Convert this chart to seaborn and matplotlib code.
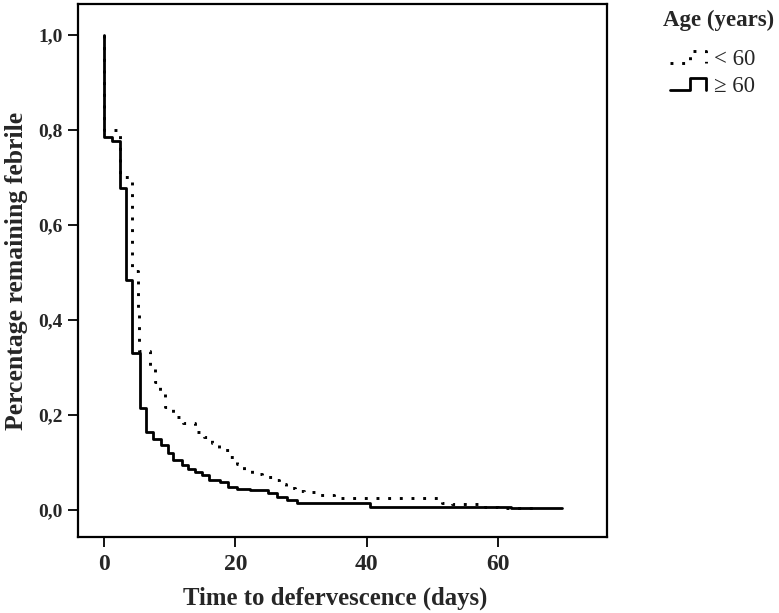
import numpy as np
import pandas as pd
import matplotlib
matplotlib.use('Agg')
import matplotlib.pyplot as plt
from matplotlib.lines import Line2D
from matplotlib.legend_handler import HandlerLine2D
import seaborn as sns

# Kaplan-Meier steps
young_days = [0, 0, 2.4, 4.3, 5.1, 5.3, 7, 7.8, 8.5, 9.3, 10.5, 12, 13.8, 15.2, 16.4, 17.5, 19,
              20.2, 21.3, 22.5, 24, 25.5, 26.6, 27.7, 29, 30.5, 32.2, 35, 51.5, 53, 58, 60, 66]
young_surv = [1.0, 0.80, 0.70, 0.503, 0.415, 0.335, 0.30, 0.27, 0.245, 0.217, 0.195, 0.183,
              0.165, 0.154, 0.141, 0.126, 0.112, 0.097, 0.083, 0.075, 0.07, 0.063, 0.054,
              0.046, 0.04, 0.037, 0.032, 0.025, 0.015, 0.012, 0.007, 0.003, 0.003]

old_days = [0, 0, 1.2, 2.4, 3.3, 4.3, 5.4, 6.3, 7.5, 8.7, 9.7, 10.5, 11.8, 12.8, 13.9, 14.9,
            15.9, 17.7, 18.9, 20.2, 22.2, 25, 26.3, 27.8, 29.3, 40.5, 62, 69.7]
old_surv = [1.0, 0.786, 0.776, 0.678, 0.484, 0.33, 0.214, 0.165, 0.149, 0.137, 0.12, 0.105,
            0.095, 0.086, 0.08, 0.074, 0.063, 0.059, 0.049, 0.044, 0.041, 0.036, 0.028,
            0.021, 0.015, 0.007, 0.003, 0.003]

group_labels = ['< 60', '\u2265 60']
x_ticks = [0, 20, 40, 60]
y_ticks = [0.0, 0.2, 0.4, 0.6, 0.8, 1.0]
y_tick_labels = ['0,0', '0,2', '0,4', '0,6', '0,8', '1,0']

young = pd.DataFrame({'days': young_days, 'surv': young_surv})
old = pd.DataFrame({'days': old_days, 'surv': old_surv})

sns.set_style('white')
plt.rcParams['font.family'] = ['Liberation Serif', 'DejaVu Serif']

fig = plt.figure(figsize=(7.79, 6.13), dpi=100)
ax = fig.add_axes([0.1001, 0.124, 0.679, 0.8695])

dotted = (0, (1, 3))
sns.lineplot(data=young, x='days', y='surv', ax=ax, estimator=None, sort=False,
             drawstyle='steps-post', color='black', linewidth=2.1, linestyle=dotted)
sns.lineplot(data=old, x='days', y='surv', ax=ax, estimator=None, sort=False,
             drawstyle='steps-post', color='black', linewidth=2.0)

ax.set_xlim(-4, 76.6)
ax.set_ylim(-0.057, 1.065)
ax.set_xticks(x_ticks)
ax.set_xticklabels([str(t) for t in x_ticks])
ax.set_yticks(y_ticks)
ax.set_yticklabels(y_tick_labels)
ax.tick_params(axis='both', direction='out', length=7, width=1.3, color='black',
               pad=4, bottom=True, left=True)
ax.tick_params(axis='x', labelsize=17, pad=5)
ax.tick_params(axis='y', labelsize=14)
for lab in ax.get_xticklabels() + ax.get_yticklabels():
    lab.set_fontweight('bold')
for sp in ax.spines.values():
    sp.set_visible(True)
    sp.set_color('black')
    sp.set_linewidth(1.6)

ax.set_xlabel('Time to defervescence (days)', fontsize=17.8, fontweight='bold')
ax.xaxis.set_label_coords(0.486, -0.093)
ax.set_ylabel('Percentage remaining febrile', fontsize=18.5, fontweight='bold')
ax.yaxis.set_label_coords(-0.095, 0.5)


class StepHandler(HandlerLine2D):
    def create_artists(self, legend, orig_handle, xdescent, ydescent, width, height,
                       fontsize, trans):
        x = np.array([0, 0.55, 0.55, 0.97, 0.97]) * width - xdescent
        y = np.array([0.12, 0.12, 0.88, 0.88, 0.12]) * height - ydescent
        line = Line2D(x, y)
        self.update_prop(line, orig_handle, legend)
        line.set_transform(trans)
        return [line]


fig.text(0.851, 0.966, 'Age (years)', fontsize=16.5, fontweight='bold',
         ha='left', va='center')

handles = [Line2D([], [], color='black', linewidth=2.1, linestyle=dotted),
           Line2D([], [], color='black', linewidth=2.0)]
leg = fig.legend(handles, group_labels, loc='upper left',
                 bbox_to_anchor=(670 / 779, 1 - 49 / 613), frameon=False, fontsize=16.5,
                 handler_map={Line2D: StepHandler()}, handlelength=1.6,
                 handletextpad=0.3, labelspacing=0.25, borderpad=0, borderaxespad=0)

fig.savefig('out.png', dpi=100)
